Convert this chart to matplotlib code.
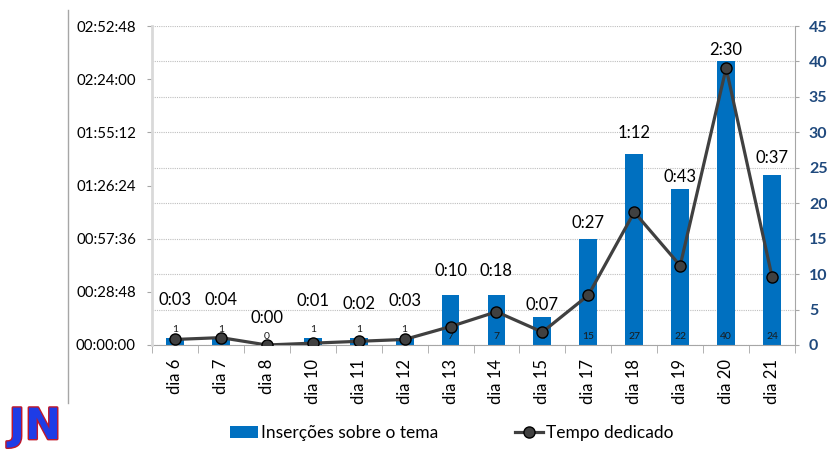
import matplotlib
matplotlib.use("Agg")
import matplotlib.pyplot as plt
from matplotlib.lines import Line2D
from matplotlib.patches import Patch
from matplotlib.ticker import FuncFormatter, MultipleLocator
import matplotlib.patheffects as pe
import numpy as np

plt.rcParams["font.family"] = ["Lato", "DejaVu Sans"]

# data
days = ["dia 6", "dia 7", "dia 8", "dia 10", "dia 11", "dia 12", "dia 13",
        "dia 14", "dia 15", "dia 17", "dia 18", "dia 19", "dia 20", "dia 21"]
insercoes = [1, 1, 0, 1, 1, 1, 7, 7, 4, 15, 27, 22, 40, 24]
tempo_min = [3, 4, 0, 1, 2, 3, 10, 18, 7, 27, 72, 43, 150, 37]

# label offsets (pixels above the bar top), layout only
label_dy = [38, 38, 27, 37, 34, 37, 24, 24, 12, 16, 21, 12, 11, 17]

BAR_COLOR = "#0070C0"
LINE_COLOR = "#404040"
AXIS_BLUE = "#1F497D"
GRID = "#BFBFBF"

fig = plt.figure(figsize=(8.27, 4.5), dpi=100)
ax = fig.add_axes([152 / 827, 1 - 345 / 450, (795 - 152) / 827, (345 - 26) / 450])
ax2 = ax.twinx()

x = np.arange(len(days))

# bars -> right scale (0..45)
ax.bar(x, insercoes, width=0.39, color=BAR_COLOR, zorder=2)
ax.set_ylim(0, 45)
ax.set_xlim(-0.5, len(days) - 0.5)
ax.yaxis.set_major_locator(MultipleLocator(5))
ax.yaxis.tick_right()
ax.tick_params(axis="y", which="both", right=True, left=False, labelright=True,
               labelleft=False, length=3, color="#A6A6A6", labelsize=11.5,
               labelcolor=AXIS_BLUE, pad=7)
for t in ax.get_yticklabels():
    t.set_fontweight("bold")
ax.grid(axis="y", color=GRID, linestyle=(0, (1, 1)), linewidth=0.8, zorder=0)
ax.set_axisbelow(True)

ax.set_xticks(x)
ax.set_xticklabels(days, rotation=90, fontsize=12)
ax.set_xticks(np.arange(len(days) + 1) - 0.5, minor=True)
ax.tick_params(axis="x", which="major", length=0, pad=10)
ax.tick_params(axis="x", which="minor", length=6, color="#A6A6A6")

for s in ["top", "left"]:
    ax.spines[s].set_visible(False)
ax.spines["bottom"].set_color("#A6A6A6")
ax.spines["right"].set_color("#A6A6A6")

# bar value labels near the base
for xi, v in zip(x, insercoes):
    y0 = v if 0 < v < 3 else 0
    ax.annotate(str(v), (xi, y0), xytext=(0, 3), textcoords="offset points",
                ha="center", va="bottom", fontsize=7.5, color="#1a1a1a", zorder=3)

# line -> left scale (seconds)
tempo_s = [m * 60 for m in tempo_min]
ax2.plot(x, tempo_s, color=LINE_COLOR, linewidth=2.3, marker="o", markersize=8,
         markerfacecolor=LINE_COLOR, markeredgecolor="black", markeredgewidth=1.0,
         zorder=4)
ax2.set_ylim(0, 10368)
ax2.yaxis.set_major_locator(MultipleLocator(1728))
ax2.yaxis.set_major_formatter(FuncFormatter(
    lambda s, _: f"{int(s) // 3600:02d}:{int(s) % 3600 // 60:02d}:{int(s) % 60:02d}"))
ax2.yaxis.tick_left()
ax2.tick_params(axis="y", which="both", left=True, right=False, labelleft=True,
                labelright=False, length=3.6, color="#A6A6A6", labelsize=10.8, pad=8)
for s in ["top", "right", "bottom"]:
    ax2.spines[s].set_visible(False)
ax2.spines["left"].set_color("#D9D9D9")
ax2.spines["left"].set_linewidth(2)

# time labels above each day
for xi, v, m, dy in zip(x, insercoes, tempo_min, label_dy):
    ax.annotate(f"{m // 60}:{m % 60:02d}", (xi, v), xytext=(0, dy),
                textcoords="offset pixels", ha="center", va="center",
                fontsize=12, color="black", zorder=5, annotation_clip=False)

# legend
handles = [Patch(facecolor=BAR_COLOR, edgecolor="none"),
           Line2D([0], [0], color=LINE_COLOR, linewidth=2.3, marker="o",
                  markersize=8, markerfacecolor=LINE_COLOR, markeredgecolor="black")]
fig.legend(handles, ["Inserções sobre o tema", "Tempo dedicado"], loc="center",
           bbox_to_anchor=(452 / 827, 1 - 433 / 450), ncol=2, frameon=False,
           fontsize=12.5, handlelength=1.6, handletextpad=0.2, columnspacing=4.4)

# frame line on the left and JN mark
fig.add_artist(Line2D([68 / 827, 68 / 827], [1 - 10 / 450, 1 - 403 / 450],
                      color="#A6A6A6", linewidth=1))
fig.text(9 / 827, 2 / 450, "JN", fontsize=31, fontweight="black", va="bottom",
         color="#1E3CE6", family=["DejaVu Sans"],
         path_effects=[pe.withStroke(linewidth=2, foreground="#C0182A")])

fig.savefig("out.png", dpi=100)
